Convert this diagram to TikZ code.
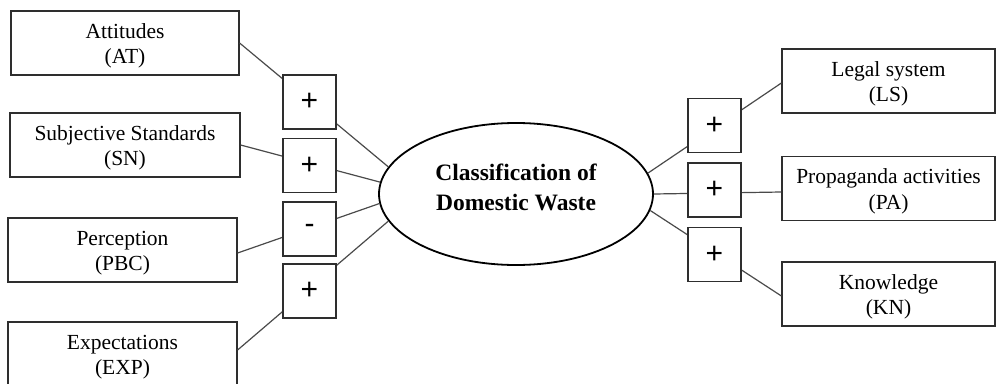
\documentclass[tikz,border=0pt]{standalone}
\usepackage{fontspec}
\setmainfont{Liberation Serif}
\newfontfamily\signfont{Liberation Sans}
\usetikzlibrary{shapes.geometric}
\definecolor{boxline}{HTML}{2E2E2E}
\definecolor{linkline}{HTML}{4A4A4A}
\begin{document}
\begin{tikzpicture}[x=1pt,y=-1pt,
  factor/.style={draw=boxline,line width=1.2pt,fill=white,minimum height=64pt,inner sep=0pt},
  factortext/.style={inner sep=0pt,align=center,font=\fontsize{21.5}{25.5}\selectfont},
  signbox/.style={draw=boxline,line width=1.2pt,fill=white,minimum width=53pt,
    minimum height=54pt,inner sep=0pt,font=\signfont\fontsize{30}{30}\selectfont},
  link/.style={draw=linkline,line width=1.2pt}]
\useasboundingbox (0,0) rectangle (996,383);
\clip (0,0) rectangle (996,383);

% factors on the left
\node[factor,minimum width=228pt] (AT)  at (125,43)    {};
\node[factor,minimum width=230pt] (SN)  at (125,145)   {};
\node[factor,minimum width=229pt] (PBC) at (122.5,250) {};
\node[factor,minimum width=229pt] (EXP) at (122.5,354) {};

% factors on the right
\node[factor,minimum width=213pt] (LS) at (888.5,81)    {};
\node[factor,minimum width=213pt] (PA) at (888.5,188.5) {};
\node[factor,minimum width=213pt] (KN) at (888.5,294)   {};

% factor names, set a little below the box centres
\node[factortext] (ATt)  at ([yshift=-3pt]AT.center)  {Attitudes\\(AT)};
\node[factortext] (SNt)  at ([yshift=-3pt]SN.center)  {Subjective Standards\\(SN)};
\node[factortext] (PBCt) at ([yshift=-3pt]PBC.center) {Perception\\(PBC)};
\node[factortext] (EXPt) at ([yshift=-3pt]EXP.center) {Expectations\\(EXP)};
\node[factortext] (LSt)  at ([yshift=-3pt]LS.center)  {Legal system\\(LS)};
\node[factortext] (PAt)  at ([yshift=-3pt]PA.center)  {Propaganda activities\\(PA)};
\node[factortext] (KNt)  at ([yshift=-3pt]KN.center)  {Knowledge\\(KN)};

% central outcome
\node[ellipse,draw=black,line width=1.8pt,minimum width=274pt,minimum height=142pt,
  inner sep=0pt] (E) at (516,194) {};
\node[inner sep=0pt,align=center,font=\bfseries\fontsize{23.5}{30}\selectfont]
  (title) at ([yshift=7pt]E.center) {Classification of\\Domestic Waste};

% links from each factor to the outcome
\draw[link] (AT.east)  -- (E.168);
\draw[link] (SN.east)  -- (E.175.5);
\draw[link] ([yshift=-3pt]PBC.east) -- (E.184);
\draw[link] ([yshift=4pt]EXP.east) -- (E.192.5);
\draw[link] ([yshift=-2pt]LS.west)  -- (E.9);
\draw[link] ([yshift=-3.5pt]PA.west)  -- (E.0.8);
\draw[link] ([yshift=-2pt]KN.west)  -- (E.-7.5);

% signs of the effects
\node[signbox] (s1) at (309.5,102)   {+};
\node[signbox] (s2) at (309.5,165.5) {+};
\node[signbox] (s3) at (309.5,229)   {-};
\node[signbox] (s4) at (309.5,291)   {+};
\node[signbox] (s5) at (714.5,125.5) {+};
\node[signbox] (s6) at (714.5,190)   {+};
\node[signbox] (s7) at (714.5,254.5) {+};
\end{tikzpicture}
\end{document}
